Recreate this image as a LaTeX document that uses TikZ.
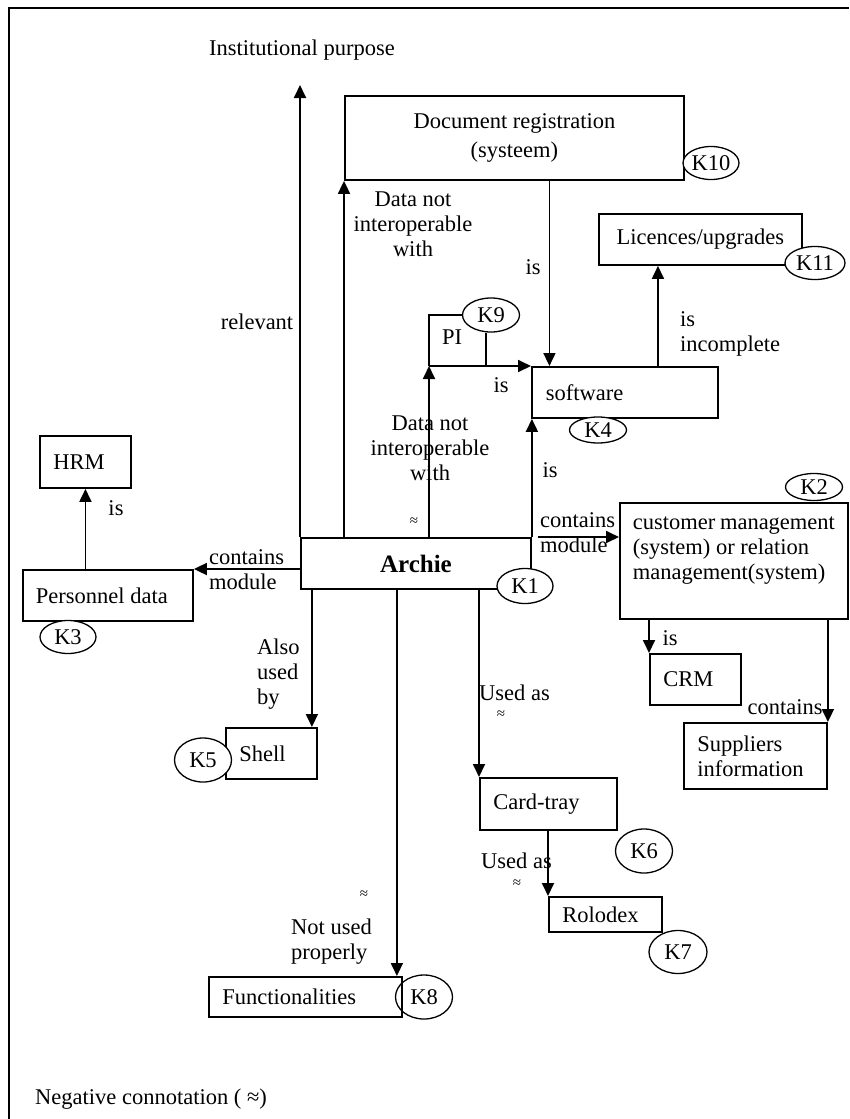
\documentclass[tikz,border=0pt]{standalone}
\usepackage{fontspec}
\setmainfont{Liberation Serif}
\usetikzlibrary{arrows.meta,shapes.geometric,calc}

\begin{document}
\begin{tikzpicture}[x=1pt,y=-1pt,
  font=\fontsize{22.5}{25}\selectfont,
  box/.style={draw,line width=1.9pt,rectangle,inner sep=0pt,anchor=north west},
  kmark/.style={draw,line width=1.3pt,ellipse,inner sep=0pt,fill=white},
  conn/.style={line width=1.8pt},
  arr/.style={conn,-{Triangle[length=13pt,width=12pt]}},
  lbl/.style={inner sep=0pt,align=left},
  approx/.style={inner sep=0pt,font=\fontsize{15}{15}\selectfont},
]
\useasboundingbox (0,0) rectangle (849,1119);
\fill[white] (0,0) rectangle (849,1119);

% outer frame (left and top edges)
\draw[line width=1.9pt] (9,1119) -- (9,8) -- (849,8);

% boxes
\node[box,minimum width=339,minimum height=84,align=center] (docreg) at (344,95)
  {Document registration\\[4pt](systeem)};
\node[box,minimum width=203,minimum height=51] (lic) at (598,213) {Licences/upgrades};
\node[box,minimum width=186,minimum height=51] (soft) at (531,366)
  {\makebox[158pt][l]{software}};
\node[box,minimum width=91,minimum height=52] (hrm) at (39,435)
  {\makebox[64pt][l]{HRM}};
\node[box,minimum width=230,minimum height=51,font=\fontsize{25}{28}\selectfont\bfseries] (archie) at (300,537) {Archie};
\node[box,minimum width=170,minimum height=51] (pers) at (22,569)
  {\makebox[144pt][l]{Personnel data}};
\node[box,minimum width=228,minimum height=116] (cust) at (619,502)
  {\parbox{202pt}{customer management\\(system) or relation\\management(system)\\\mbox{}}};
\node[box,minimum width=91,minimum height=51] (crm) at (649,653)
  {\makebox[64pt][l]{CRM}};
\node[box,minimum width=143,minimum height=66] (supp) at (683,722)
  {\parbox{116pt}{Suppliers\\information}};
\node[box,minimum width=91,minimum height=51] (shell) at (225,727)
  {\makebox[64pt][l]{Shell}};
\node[box,minimum width=137,minimum height=52] (card) at (479,777)
  {\makebox[110pt][l]{Card-tray}};
\node[box,minimum width=113,minimum height=35] (rolo) at (548,896)
  {\makebox[86pt][l]{Rolodex}};
\node[box,minimum width=193,minimum height=40] (func) at (208,976)
  {\makebox[166pt][l]{Functionalities}};

% reference marks
\node[kmark,minimum width=56,minimum height=33] (k10) at (711,163) {K10};
\node[kmark,minimum width=60,minimum height=33] (k11) at (815,263) {K11};
\node[kmark,minimum width=57,minimum height=34] (k9) at (491,315) {K9};
\node[kmark,minimum width=57,minimum height=26] (k4) at (598,430) {K4};
\node[kmark,minimum width=57,minimum height=27] (k2) at (814,487) {K2};
\node[kmark,minimum width=56,minimum height=33] (k3) at (68,637) {K3};
\node[kmark,minimum width=57,minimum height=44] (k5) at (203,760) {K5};
\node[kmark,minimum width=57,minimum height=44] (k6) at (644,851) {K6};
\node[kmark,minimum width=58,minimum height=43] (k7) at (678,952) {K7};
\node[kmark,minimum width=57,minimum height=44,fill=none] (k8) at (424,997) {K8};

% free-standing texts
\node[lbl] (inst) at (302,50) {Institutional purpose};
\coordinate (instTip) at (300,85);
\node[lbl,align=center] (dni1) at (413,224) {Data not\\interoperable\\with};
\node[lbl] (rel) at (257,322) {relevant};
\node[lbl] (isdoc) at (533,267) {is};
\node[lbl,anchor=west] (isinc) at (680,334) {is\\incomplete};
\node[lbl] (pi) at (452,337) {PI};
\node[lbl] (ispi) at (501,385) {is};
\node[lbl,align=center] (dni2) at (430,448) {Data not\\interoperable\\with};
\node[lbl] (issoft) at (550,470) {is};
\node[lbl] (ishrm) at (116,508) {is};
\node[approx] (ap1) at (414,522) {≈};
\node[lbl,anchor=west] (cmL) at (209,570) {contains\\module};
\node[lbl,anchor=west] (cmR) at (540,533) {contains\\module};
\node[lbl] (iscrm) at (670,638) {is};
\node[lbl] (contsup) at (785,707) {contains};
\node[lbl,anchor=west] (also) at (257,674) {Also\\used\\by};
\node[lbl,anchor=west] (used1) at (479,693) {Used as};
\node[approx] (ap2) at (501,715) {≈};
\node[lbl,anchor=west] (used2) at (481,861) {Used as};
\node[approx] (ap3) at (517,884) {≈};
\node[approx] (ap4) at (364,895) {≈};
\node[lbl,anchor=west] (notused) at (291,942) {Not used\\properly};
\node[lbl,anchor=west] (legend) at (35,1099) {Negative connotation ( ≈)};

% connectors from Archie upwards
\draw[arr] (archie.north west) -- (instTip);
\draw[arr] (docreg.south west |- archie.north) -- (docreg.south west);
\coordinate (pij) at (429,366);
\draw[arr] (pij |- archie.north) -- (pij);
\draw[arr] (pij) -- (soft.north west);
\draw[conn] (pij) |- (k9.west);
\draw[conn] ([xshift=-5]k9.south) -- ([xshift=-5]k9.south |- pij);
\draw[arr] (archie.north east) -- (archie.north east |- soft.south);

% document registration and software
\draw[arr] ([xshift=35]docreg.south) -- ([xshift=35]docreg.south |- soft.north);
\draw[arr] ([xshift=33]soft.north) -- ([xshift=33]soft.north |- lic.south);

% sideways from Archie
\draw[arr] (archie.west |- pers.north east) -- (pers.north east);
\draw[arr] (hrm.south |- pers.north) -- (hrm.south);
\draw[arr] ([xshift=6]archie.north east) -- (archie.north east -| cust.west);

% customer management
\draw[arr] (crm.north west |- cust.south) -- (crm.north west);
\draw[arr] (supp.north east |- cust.south) -- (supp.north east);

% downwards from Archie
\draw[arr] ([xshift=-6]shell.north east |- archie.south) -- ([xshift=-6]shell.north east);
\draw[arr] (card.north west |- archie.south) -- (card.north west);
\draw[arr] (rolo.north west |- card.south) -- (rolo.north west);
\draw[arr] ([xshift=-6]func.north east |- archie.south) -- ([xshift=-6]func.north east);

% K1 sits over the lower right corner of the Archie box
\node[kmark,minimum width=56,minimum height=35] (k1) at (525,586) {K1};
\end{tikzpicture}
\end{document}
